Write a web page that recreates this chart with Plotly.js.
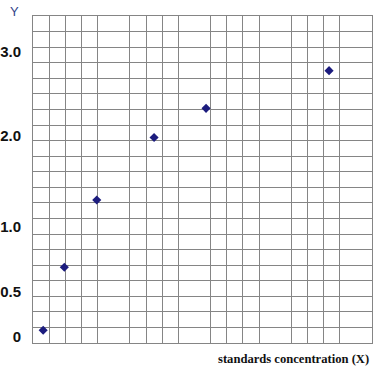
<!DOCTYPE html>
<html>
<head>
<meta charset="utf-8">
<script src="https://cdn.plot.ly/plotly-3.0.1.min.js"></script>
<style>
html,body{margin:0;padding:0;background:#fff;}
#chart{width:386px;height:376px;}
</style>
</head>
<body>
<div id="chart"></div>
<script>
// Data, in grid-cell units (21 x 21 grid)
const xValues = [0.63, 1.94, 3.95, 7.50, 10.72, 18.34];
const yValues = [0.82, 4.86, 9.18, 13.20, 15.07, 17.49];
// Y tick labels and where they sit on the grid scale
const yTickVals = [0.40, 3.29, 7.44, 13.31, 18.71];
const yTickText = ["0", "0.5", "1.0", "2.0", "3.0"];
const xTitle = "standards concentration (X)";
const yTitle = "Y";

const gridColor = "#858585";

const trace = {
  x: xValues,
  y: yValues,
  type: "scatter",
  mode: "markers",
  marker: {symbol: "diamond", size: 7, color: "#1c1c7e", line: {width: 0}},
  hoverinfo: "skip",
  showlegend: false
};

const layout = {
  width: 386,
  height: 376,
  margin: {l: 33, r: 14, t: 16, b: 33, pad: 0},
  paper_bgcolor: "#ffffff",
  plot_bgcolor: "#ffffff",
  showlegend: false,
  xaxis: {
    range: [0, 21],
    showgrid: false,
    zeroline: false,
    showticklabels: false,
    ticks: "",
    showline: true, mirror: true, linecolor: gridColor, linewidth: 1,
    minor: {dtick: 1, tick0: 0, showgrid: true, gridcolor: gridColor, gridwidth: 1, ticks: ""},
    fixedrange: true
  },
  yaxis: {
    range: [0, 21],
    showgrid: false,
    zeroline: false,
    tickmode: "array",
    tickvals: yTickVals,
    ticktext: yTickText,
    ticks: "",
    ticklabelstandoff: 8,
    tickfont: {family: "Liberation Sans, Arial, sans-serif", size: 15, color: "#111111", weight: "bold"},
    showline: true, mirror: true, linecolor: gridColor, linewidth: 1,
    minor: {dtick: 1, tick0: 0, showgrid: true, gridcolor: gridColor, gridwidth: 1, ticks: ""},
    fixedrange: true
  },
  annotations: [
    {
      text: xTitle, xref: "paper", yref: "paper",
      x: (371 - 33) / 339, y: -(359 - 343) / 327,
      xanchor: "right", yanchor: "middle", showarrow: false,
      font: {family: "Liberation Serif, Times New Roman, serif", size: 12.6, color: "#111111", weight: "bold"}
    },
    {
      text: yTitle, xref: "paper", yref: "paper",
      x: (14.5 - 33) / 339, y: 1 + (16 - 11) / 327,
      xanchor: "center", yanchor: "middle", showarrow: false,
      font: {family: "Liberation Sans, Arial, sans-serif", size: 13, color: "#34458a"}
    }
  ]
};

Plotly.newPlot("chart", [trace], layout, {displayModeBar: false, staticPlot: true});
</script>
</body>
</html>
